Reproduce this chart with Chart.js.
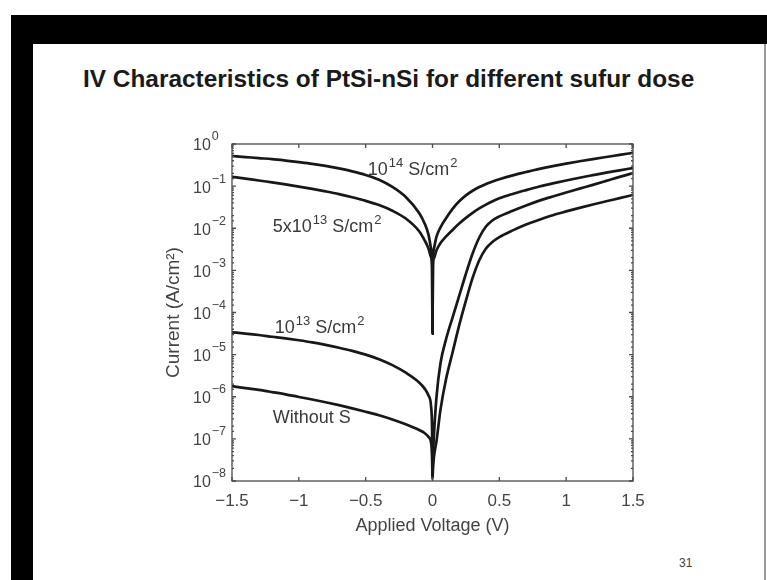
<!DOCTYPE html>
<html>
<head>
<meta charset="utf-8">
<script src="https://cdn.jsdelivr.net/npm/chart.js@4.4.1/dist/chart.umd.min.js"></script>
<style>
html, body { margin: 0; padding: 0; background: #fff; }
#page { position: relative; width: 767px; height: 580px; overflow: hidden; background: #fff; }
#topbar { position: absolute; left: 11px; top: 15px; width: 756px; height: 29px; background: #000; }
#leftbar { position: absolute; left: 11px; top: 15px; width: 22px; height: 565px; background: #000; }
#rightline { position: absolute; left: 764px; top: 44px; width: 2px; height: 536px; background: #999; }
#title { position: absolute; left: 83px; top: 65px; white-space: nowrap;
  font: bold 24.4px "Liberation Sans", Arial, sans-serif; color: #1a1a1a; }
#pg { position: absolute; left: 679px; top: 556px; font: 12px "Liberation Sans", Arial, sans-serif; color: #444; }
#wrap { position: absolute; left: 0; top: 0; width: 767px; height: 580px; }
</style>
</head>
<body>
<div id="page">
  <div id="topbar"></div>
  <div id="leftbar"></div>
  <div id="rightline"></div>
  <div id="title">IV Characteristics of PtSi-nSi for different sufur dose</div>
  <div id="pg">31</div>
  <div id="wrap"><canvas id="iv" width="767" height="580"></canvas></div>
</div>
<script>
// applied voltage (V), shared by all curves
var voltage = [-1.5, -1.4, -1.3, -1.2, -1.1, -1.0, -0.9, -0.8, -0.7, -0.6, -0.5, -0.4, -0.3, -0.2, -0.1,
               -0.06, -0.03, -0.01, -0.003, 0, 0.003, 0.01, 0.03, 0.06, 0.1, 0.15, 0.2, 0.25, 0.3, 0.35,
               0.4, 0.45, 0.5, 0.6, 0.7, 0.8, 0.9, 1.0, 1.1, 1.2, 1.3, 1.4, 1.5];

// current density (A/cm^2)
var cur1e14 = [0.519, 0.490, 0.462, 0.437, 0.405, 0.372, 0.339, 0.302, 0.263, 0.224, 0.184, 0.141, 0.0955, 0.055, 0.0229,
               0.0132, 0.00708, 0.00316, 0.00141, 3.16e-5, 0.00141, 0.00316, 0.00631, 0.0105, 0.017, 0.0288, 0.0437, 0.0603,
               0.0776, 0.0955, 0.112, 0.129, 0.146, 0.180, 0.216, 0.257, 0.299, 0.343, 0.389, 0.439, 0.492, 0.550, 0.617];
var cur5e13 = [0.166, 0.151, 0.136, 0.123, 0.110, 0.0977, 0.0861, 0.075, 0.0646, 0.0543, 0.0447, 0.0355, 0.026, 0.017, 0.0085,
               0.00525, 0.00331, 0.002, 0.00126, 3.16e-5, 0.00126, 0.0019, 0.00302, 0.00447, 0.00631, 0.00912, 0.0129, 0.0176,
               0.0232, 0.0295, 0.0363, 0.0437, 0.0513, 0.0653, 0.0804, 0.0977, 0.116, 0.136, 0.158, 0.182, 0.209, 0.237, 0.269];
var cur1e13 = [3.39e-5, 3.16e-5, 2.92e-5, 2.66e-5, 2.43e-5, 2.19e-5, 1.95e-5, 1.70e-5, 1.46e-5, 1.23e-5, 1.0e-5, 7.76e-6, 5.62e-6, 3.72e-6, 2.19e-6,
               1.58e-6, 1.07e-6, 5.62e-7, 1.58e-7, 1.58e-8, 3.98e-8, 1.12e-7, 1e-6, 6.31e-6, 2.24e-5, 7.59e-5, 2.51e-4, 8.32e-4,
               0.00251, 0.00603, 0.011, 0.0155, 0.0191, 0.026, 0.0347, 0.0452, 0.0569, 0.0708, 0.0871, 0.107, 0.133, 0.166, 0.204];
var curNoS  = [1.78e-6, 1.60e-6, 1.45e-6, 1.29e-6, 1.14e-6, 9.89e-7, 8.61e-7, 7.41e-7, 6.31e-7, 5.31e-7, 4.42e-7, 3.63e-7, 2.88e-7, 2.21e-7, 1.62e-7,
               1.38e-7, 1.12e-7, 7.94e-8, 3.55e-8, 1.12e-8, 1.78e-8, 3.55e-8, 8.91e-8, 5.01e-7, 2.51e-6, 1.12e-5, 5.01e-5, 1.91e-4,
               6.61e-4, 0.00174, 0.00331, 0.00479, 0.00617, 0.00891, 0.0123, 0.016, 0.0204, 0.0251, 0.0305, 0.0367, 0.0437, 0.0519, 0.0617];

var seriesNames = ['1e14', '5e13', '1e13', 'none'];
var seriesData = [cur1e14, cur5e13, cur1e13, curNoS];

// y tick decades (exponents)
var yDecades = [0, -1, -2, -3, -4, -5, -6, -7, -8];

// curve labels: text pieces, [text, isSuperscript]
var noteParts = [
  [['10', 0], ['14', 1], [' S/cm', 0], ['2', 1]],
  [['5x10', 0], ['13', 1], [' S/cm', 0], ['2', 1]],
  [['10', 0], ['13', 1], [' S/cm', 0], ['2', 1]],
  [['Without S', 0]]
];
var noteV = [-0.485, -1.195, -1.18, -1.195];
var noteI = [0.24, 0.0107, 4.3e-5, 3.1e-7];

var FONT = '"Liberation Sans", Arial, sans-serif';

function isDecade(v) {
  var e = Math.log10(v);
  return Math.abs(e - Math.round(e)) < 1e-6;
}

var datasets = seriesData.map(function (arr, k) {
  return {
    label: seriesNames[k],
    data: voltage.map(function (v, i) { return { x: v, y: arr[i] }; }),
    borderColor: '#181818',
    borderWidth: 2.7,
    pointRadius: 0,
    fill: false,
    cubicInterpolationMode: 'monotone'
  };
});

function drawParts(ctx, parts, px, py, big, small, rise) {
  parts.forEach(function (p) {
    ctx.font = (p[1] ? small : big) + 'px ' + FONT;
    ctx.fillText(p[0], px, py - (p[1] ? rise : 0));
    px += ctx.measureText(p[0]).width + (p[1] ? 0 : 1);
  });
}

var boxTicks = {
  id: 'boxTicks',
  afterDatasetsDraw: function (chart) {
    var ctx = chart.ctx, a = chart.chartArea, x = chart.scales.x, y = chart.scales.y;
    ctx.save();
    ctx.strokeStyle = '#4a4a4a';
    ctx.lineWidth = 1.3;
    ctx.strokeRect(a.left, a.top, a.right - a.left, a.bottom - a.top);
    ctx.beginPath();
    x.ticks.forEach(function (t) {
      var px = x.getPixelForValue(t.value);
      ctx.moveTo(px, a.bottom); ctx.lineTo(px, a.bottom - 4);
      ctx.moveTo(px, a.top); ctx.lineTo(px, a.top + 4);
    });
    y.ticks.forEach(function (t) {
      var py = y.getPixelForValue(t.value);
      var len = isDecade(t.value) ? 4 : 2;
      ctx.moveTo(a.left, py); ctx.lineTo(a.left + len, py);
      ctx.moveTo(a.right, py); ctx.lineTo(a.right - len, py);
    });
    ctx.stroke();

    // y tick labels: 10 with superscript exponent
    ctx.fillStyle = '#444';
    ctx.textBaseline = 'middle';
    ctx.textAlign = 'left';
    yDecades.forEach(function (e) {
      var py = y.getPixelForValue(Math.pow(10, e));
      var ex = e < 0 ? '\u2212' + (-e) : String(e);
      drawParts(ctx, [['10', 0], [ex, 1]], a.left - 39, py + 2, 16, 12.5, 9);
    });

    // curve labels
    ctx.fillStyle = '#3a3a3a';
    noteParts.forEach(function (parts, k) {
      drawParts(ctx, parts, x.getPixelForValue(noteV[k]), y.getPixelForValue(noteI[k]), 18, 13, 7);
    });
    ctx.restore();
  }
};

new Chart(document.getElementById('iv'), {
  type: 'line',
  data: { datasets: datasets },
  options: {
    responsive: false,
    animation: false,
    events: [],
    layout: { padding: { left: 162, top: 144, right: 134, bottom: 43 } },
    plugins: { legend: { display: false }, tooltip: { enabled: false } },
    scales: {
      x: {
        type: 'linear',
        min: -1.5, max: 1.5,
        afterFit: function (s) { s.height = 56; },
        border: { display: false },
        grid: { display: false, drawTicks: false },
        ticks: {
          stepSize: 0.5,
          padding: 10,
          color: '#444',
          font: { family: FONT, size: 17 },
          callback: function (v) { return (v < 0 ? '\u2212' : '') + Math.abs(v); }
        },
        title: {
          display: true, text: 'Applied Voltage (V)', color: '#444', padding: 0,
          font: { family: FONT, size: 18 }
        }
      },
      y: {
        type: 'logarithmic',
        min: 1e-8, max: 1,
        afterFit: function (s) { s.width = 70; },
        border: { display: false },
        grid: { display: false, drawTicks: false },
        ticks: { autoSkip: false, display: false },
        title: {
          display: true, text: 'Current (A/cm\u00B2)', color: '#444', padding: 0,
          font: { family: FONT, size: 19 }
        }
      }
    }
  },
  plugins: [boxTicks]
});
</script>
</body>
</html>
